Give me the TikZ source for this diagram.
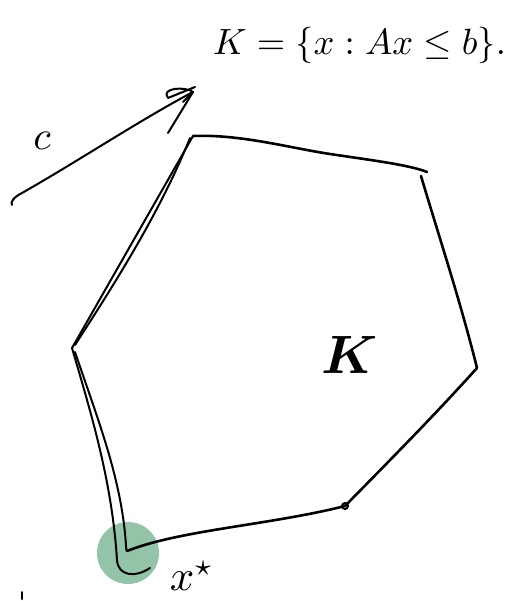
\documentclass[tikz,border=0pt]{standalone}
\usepackage{amsmath}
\usepackage{graphicx}
\usetikzlibrary{arrows.meta}
\definecolor{opt}{HTML}{93C4A8}
\tikzset{pen/.style={line width=2.6pt,line cap=round,line join=round},
         thin pen/.style={line width=2pt,line cap=round,line join=round},
         lab/.style={inner sep=0pt}}
\begin{document}
\begin{tikzpicture}[x=1pt,y=-1pt]
\useasboundingbox (0,0) rectangle (521,601);
% optimal vertex highlight
\fill[opt] (128,553) circle (31);
% vertices
\coordinate (T) at (193,136);
\coordinate (TR) at (427,172);
\coordinate (R) at (477,368);
\coordinate (BR) at (345,506);
\coordinate (B) at (127,551);
\coordinate (L) at (72,348);
% polygon edges
\draw[pen] (T) .. controls (240,134) and (290,148) .. (330,154) .. controls (370,160) and (410,165) .. (TR);
\draw[pen] (421,176) .. controls (440,240) and (460,300) .. (R);
\draw[pen] (R) .. controls (430,420) and (390,460) .. (BR);
\draw[thin pen] (BR) circle (3);
\draw[pen] (BR) .. controls (270,525) and (180,530) .. (B);
% left double lines
\draw[thin pen] (L) -- (T);
\draw[thin pen] (75,345) .. controls (117,280) and (160,212) .. (190,138);
\draw[thin pen] (L) .. controls (90,410) and (112,480) .. (117,560) .. controls (118,576) and (135,578) .. (150,568);
\draw[thin pen] (75,352) .. controls (98,420) and (122,480) .. (126,546) .. controls (126,550) and (127,551) .. (B);
% objective arrow c
\coordinate (c0) at (12,205);
\coordinate (c1) at (193,92);
\draw[thin pen] (c0) .. controls (10,202) and (14,197) .. (22,193) .. controls (80,160) and (140,120) .. (c1);
\draw[thin pen] (c1) .. controls (185,86) and (160,88) .. (168,98) -- (195,87);
\draw[thin pen] (168,133) -- (c1);
\draw[thin pen] (183,102) -- (193,92);
% labels
\node[lab] (cl) at (42,141) {\scalebox{4}{$c$}};
\node[lab] (Kl) at (350,355) {\scalebox{5.4}{$\boldsymbol{K}$}};
\node[lab] (xl) at (192,576) {\scalebox{4.3}{$x^{\star}$}};
\node[lab,anchor=west] (def) at (213,45) {\scalebox{3.65}{$K=\{x : Ax\le b\}.$}};
\draw[thin pen] (22,592) -- (22,599);
\end{tikzpicture}
\end{document}
